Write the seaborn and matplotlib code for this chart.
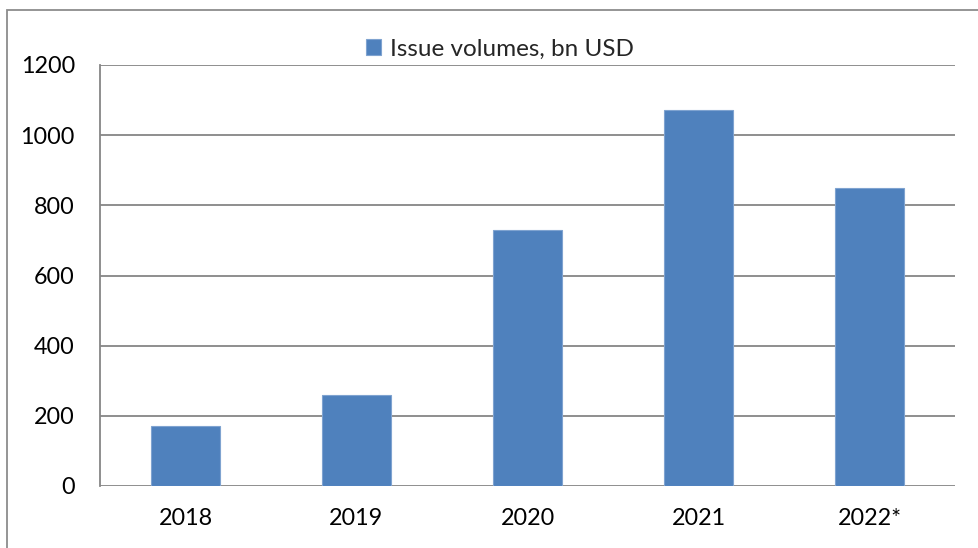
import matplotlib
matplotlib.use("Agg")
import matplotlib.pyplot as plt
import seaborn as sns
import pandas as pd
from matplotlib.patches import Rectangle

years = ["2018", "2019", "2020", "2021", "2022*"]
volumes = [171, 259, 730, 1071, 848]
series_name = "Issue volumes, bn USD"
yticks = [0, 200, 400, 600, 800, 1000, 1200]

sns.set_theme(style="white")
plt.rcParams['font.family'] = ['Lato', 'DejaVu Sans']

df = pd.DataFrame({"year": years, "value": volumes, "series": series_name})

fig = plt.figure(figsize=(9.79, 5.48), dpi=100)
W, H = 979, 548
ax = fig.add_axes([100 / W, 1 - 486 / H, (955 - 100) / W, (486 - 65) / H])

sns.barplot(data=df, x="year", y="value", hue="series", palette=["#4F81BD"],
            width=0.40, ax=ax, saturation=1, edgecolor="#7FA3D0", linewidth=0.8,
            zorder=3)

ax.set_ylim(0, 1200)
ax.set_xlim(-0.5, 4.5)
ax.set_yticks(yticks)
ax.set_yticklabels([str(t) for t in yticks])
ax.yaxis.grid(True, color="#868686", linewidth=1.3, zorder=0)
ax.set_axisbelow(True)
ax.set_xlabel("")
ax.set_ylabel("")
for s in ["top", "right", "bottom"]:
    ax.spines[s].set_visible(False)
ax.spines["left"].set_color("#868686")
ax.spines["left"].set_linewidth(1.3)
ax.tick_params(axis="both", length=0, labelsize=16.8, colors="black")
ax.tick_params(axis="y", pad=18)
ax.tick_params(axis="x", pad=16)

leg = ax.legend(loc="lower center", bbox_to_anchor=(0.468, 0.99), frameon=False,
                fontsize=17.5, handlelength=0.6, handleheight=0.6, handletextpad=0.4,
                borderaxespad=0.0)

fig.patches.append(Rectangle((7 / W, -0.05), 1.1, 1 - 10 / H + 0.05,
                             transform=fig.transFigure, fill=False,
                             edgecolor="#8C8C8C", linewidth=1.3))

fig.savefig("out.png", dpi=100)
